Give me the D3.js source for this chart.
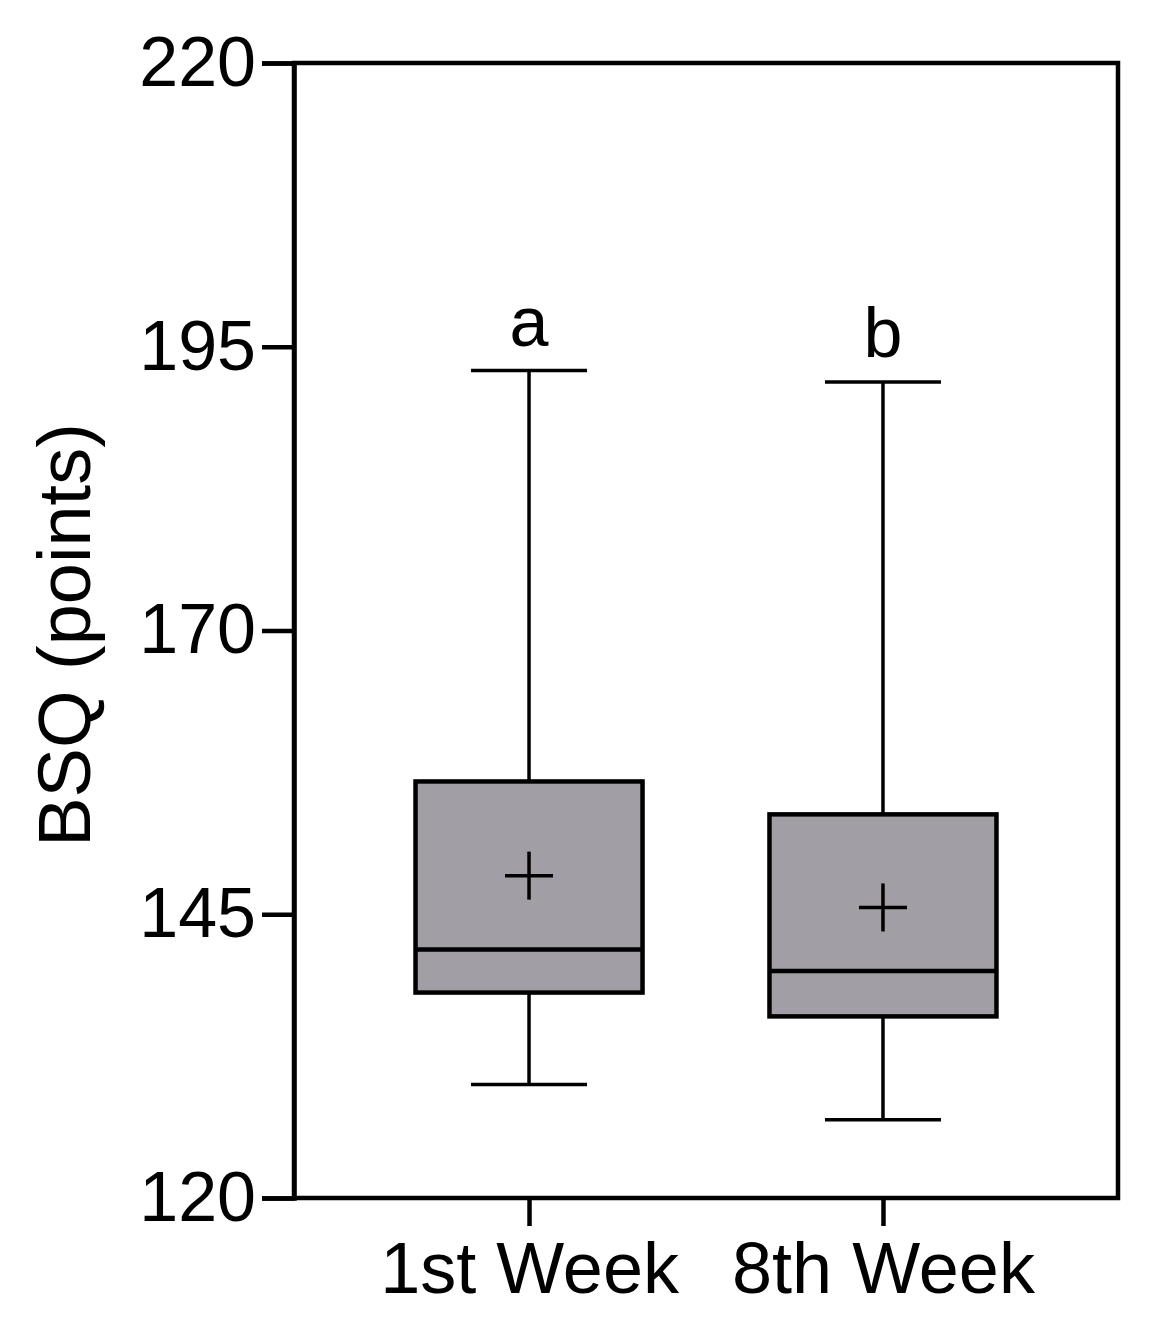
<!DOCTYPE html>
<html><head><meta charset="utf-8">
<script src="https://cdn.jsdelivr.net/npm/d3@7/dist/d3.min.js"></script>
<style>body{margin:0;background:#fff}svg{font-family:"Liberation Sans",Arial,sans-serif}</style>
</head><body><svg id="c" width="1162" height="1340"></svg>
<script>
const categories = ["1st Week", "8th Week"];
const mins = [130.0, 126.9];
const q1s = [138.1, 136.0];
const medians = [141.9, 140.0];
const q3s = [156.7, 153.8];
const maxs = [192.9, 191.9];
const means = [148.4, 145.6];
const letters = ["a", "b"];
const yTicks = [120, 145, 170, 195, 220];

const svg = d3.select("#c");
const L = 294, R = 1118, T = 63, B = 1198;
const y = d3.scaleLinear().domain([120, 220]).range([B, T]);
const x = d3.scalePoint().domain(categories).range([L, R]).padding(0.664);
const boxW = 227, capW = 116, plusW = 48;

svg.append("rect").attr("x", L).attr("y", T).attr("width", R - L).attr("height", B - T)
  .attr("fill", "none").attr("stroke", "#000").attr("stroke-width", 4.5);

const ya = svg.append("g").attr("transform", `translate(${L},0)`)
  .call(d3.axisLeft(y).tickValues(yTicks).tickSize(32).tickPadding(6));
ya.select(".domain").attr("stroke-width", 4.5);
ya.selectAll(".tick line").attr("stroke-width", 4.5);
ya.selectAll("text").attr("font-size", 70).attr("fill", "#000");

const xa = svg.append("g").attr("transform", `translate(0,${B})`)
  .call(d3.axisBottom(x).tickSize(28).tickPadding(16));
xa.select(".domain").remove();
xa.selectAll(".tick line").attr("stroke-width", 4.5);
xa.selectAll("text").attr("font-size", 72).attr("fill", "#000");

svg.append("text").attr("transform", "translate(90,635) rotate(-90)")
  .attr("text-anchor", "middle").attr("font-size", 74).text("BSQ (points)");

categories.forEach((c, i) => {
  const cx = x(c);
  const g = svg.append("g").attr("stroke", "#000");
  g.append("line").attr("x1", cx).attr("x2", cx).attr("y1", y(maxs[i])).attr("y2", y(q3s[i])).attr("stroke-width", 3.5);
  g.append("line").attr("x1", cx).attr("x2", cx).attr("y1", y(q1s[i])).attr("y2", y(mins[i])).attr("stroke-width", 3.5);
  [maxs[i], mins[i]].forEach(v => g.append("line").attr("x1", cx - capW / 2).attr("x2", cx + capW / 2)
    .attr("y1", y(v)).attr("y2", y(v)).attr("stroke-width", 3.5));
  g.append("rect").attr("x", cx - boxW / 2).attr("width", boxW).attr("y", y(q3s[i]))
    .attr("height", y(q1s[i]) - y(q3s[i])).attr("fill", "#a19fa5").attr("stroke-width", 4.5);
  g.append("line").attr("x1", cx - boxW / 2).attr("x2", cx + boxW / 2).attr("y1", y(medians[i])).attr("y2", y(medians[i])).attr("stroke-width", 4.5);
  g.append("line").attr("x1", cx - plusW / 2).attr("x2", cx + plusW / 2).attr("y1", y(means[i])).attr("y2", y(means[i])).attr("stroke-width", 3.5);
  g.append("line").attr("x1", cx).attr("x2", cx).attr("y1", y(means[i]) - plusW / 2).attr("y2", y(means[i]) + plusW / 2).attr("stroke-width", 3.5);
  svg.append("text").attr("x", cx).attr("y", y(maxs[i]) - 25).attr("text-anchor", "middle")
    .attr("font-size", 70).text(letters[i]);
});
</script></body></html>
